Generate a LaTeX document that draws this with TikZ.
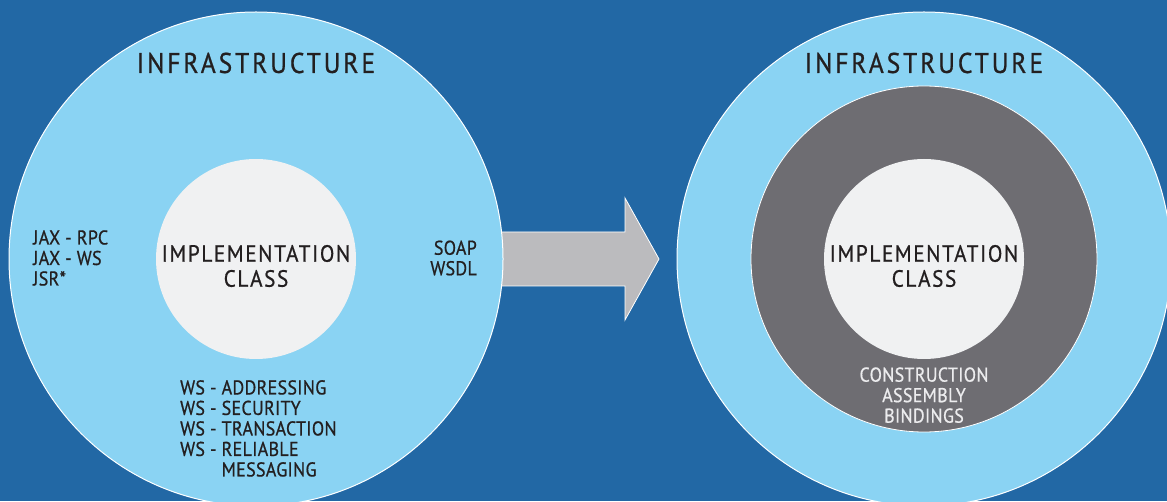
\documentclass[tikz,border=0pt]{standalone}
\usepackage{fontspec}
\setmainfont[FakeStretch=0.9, FakeBold=0.7]{PT Sans}
\usetikzlibrary{positioning}

\definecolor{bgblue}{HTML}{2268A5}
\definecolor{skyblue}{HTML}{8AD3F3}
\definecolor{coregray}{HTML}{F0F1F2}
\definecolor{ringgray}{HTML}{6E6D72}
\definecolor{arrowgray}{HTML}{BBBBBE}
\definecolor{inkdark}{HTML}{231F20}
\definecolor{ringtext}{HTML}{ECECEE}

\begin{document}
\begin{tikzpicture}[x=1pt, y=1pt,
    % Styles
    outer/.style={circle, fill=skyblue, draw=white, line width=1pt, minimum size=494pt, inner sep=0pt},
    ring/.style={circle, fill=ringgray, draw=white, line width=0.8pt, minimum size=346pt, inner sep=0pt},
    core/.style={circle, fill=coregray, minimum size=200pt, inner sep=0pt},
    title/.style={font=\fontsize{28.5}{30}\selectfont\addfontfeatures{LetterSpace=10}, text=inkdark, inner sep=0pt},
    corelabel/.style={font=\fontsize{23.5}{25}\selectfont\addfontfeatures{LetterSpace=7}, align=center, text=inkdark, inner sep=0pt},
    items/.style={font=\fontsize{20}{20.5}\selectfont\addfontfeatures{LetterSpace=1.5}, text=inkdark, inner sep=0pt},
    blockarrow/.style={fill=arrowgray, draw=white, line width=0.8pt, line join=miter},
]

% Canvas
\useasboundingbox (0,0) rectangle (1167,501);
\fill[bgblue] (0,0) rectangle (1167,501);

% Circles (arrow shaft starts under the left one)
\coordinate (legacyc) at (256,242);
\coordinate (modernc) at (924,242);
\path (legacyc) ++(247,0) coordinate (legacyedge);
\path (modernc) ++(-247,0) coordinate (modernedge);

% Migration arrow
\draw[blockarrow] ([xshift=-10pt, yshift=27pt]legacyedge) -- ++(132,0) -- ++(0,34)
    -- ([xshift=-18pt]modernedge) -- ++(-34,-61) -- ++(0,34)
    -- ([xshift=-10pt, yshift=-27pt]legacyedge) -- cycle;

% Left: everything written by hand
\node[outer] (legacy) at (legacyc) {};
\node[core] (legacycore) at (legacy.center) {};
\node[corelabel] (legacyimpl) at ([yshift=-7pt]legacycore.center) {IMPLEMENTATION\\CLASS};
\node[title] (legacyinfra) at (256,438) {INFRASTRUCTURE};
\node[items, align=left, anchor=west] (javaapis) at (33,243) {JAX - RPC\\JAX - WS\\JSR*};
\node[items, align=right, anchor=east] (wire) at (477,243) {SOAP\\WSDL};
\node[items, align=left, anchor=north west] (wsstack) at (180,121) {%
    WS - ADDRESSING\\
    WS - SECURITY\\
    WS - TRANSACTION\\
    WS - RELIABLE\\
    \hphantom{WS - }MESSAGING};

% Right: infrastructure handled by the framework
\node[outer] (modern) at (modernc) {};
\node[ring] (modernring) at (modern.center) {};
\node[core] (moderncore) at (modern.center) {};
\node[corelabel] (modernimpl) at ([yshift=-7pt]moderncore.center) {IMPLEMENTATION\\CLASS};
\node[title] (moderninfra) at (924,438) {INFRASTRUCTURE};
\node[items, align=center, text=ringtext, below=8pt of moderncore] (framework) {CONSTRUCTION\\ASSEMBLY\\BINDINGS};

\end{tikzpicture}
\end{document}
